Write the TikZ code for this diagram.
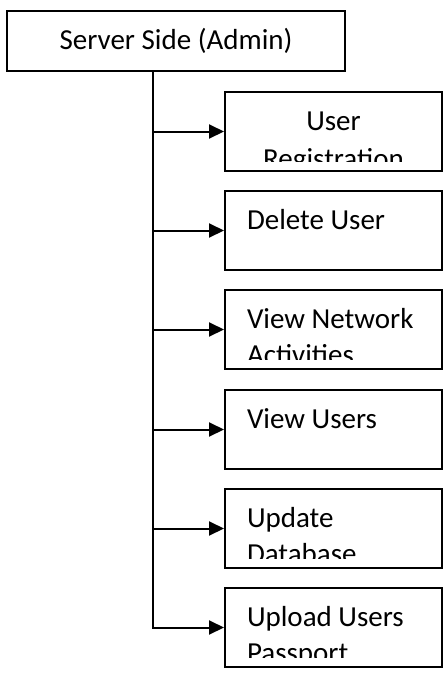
\documentclass[tikz,border=0pt]{standalone}
\usepackage{fontspec}
\setmainfont{Carlito}
\usetikzlibrary{arrows.meta,positioning}

\begin{document}
\begin{tikzpicture}[x=1pt,y=-1pt,line width=2pt,>={Triangle[length=15pt,width=14pt]},
	box/.style={draw,minimum width=217pt,minimum height=79pt,inner sep=0pt},
	txt/.style={inner sep=0pt,font=\fontsize{29}{36}\selectfont}]
	\useasboundingbox (0,0) rectangle (443,675);
	\node[draw,minimum width=338pt,minimum height=60pt,font=\fontsize{29}{36}\selectfont] (admin) at (176,41) {Server Side (Admin)};
	\coordinate (trunkend) at (153,629);
	\draw (admin.south -| trunkend) -- (trunkend);
	% the six tasks
	\foreach \nm/\y in {reg/91, del/190, net/289, view/389, upd/488, pass/587}
	{
		\node[box,anchor=north west] (\nm) at (224,\y) {};
		\draw[->] (trunkend |- \nm.west) -- (\nm.west);
	}
	% labels, the second line is cut off by the box
	\begin{scope}
		\clip (reg.north west) rectangle ([yshift=11pt]reg.south east);
		\node[txt,anchor=base] (reg-a) at ([yshift=-39pt]reg.north) {User};
		\node[txt,anchor=base] (reg-b) at ([yshift=-77pt]reg.north) {Registration};
	\end{scope}
	\foreach \nm/\la in {del/Delete User, view/View Users}
		\node[txt,anchor=base west] (\nm-a) at ([xshift=22pt,yshift=-39pt]\nm.north west) {\la};
	\foreach \nm/\la/\lb in {net/View Network/Activities, upd/Update/Database, pass/Upload Users/Passport}
	{
		\begin{scope}
			\clip (\nm.north west) rectangle ([yshift=11pt]\nm.south east);
			\node[txt,anchor=base west] (\nm-a) at ([xshift=22pt,yshift=-39pt]\nm.north west) {\la};
			\node[txt,anchor=base west] (\nm-b) at ([xshift=22pt,yshift=-75pt]\nm.north west) {\lb};
		\end{scope}
	}
\end{tikzpicture}
\end{document}
